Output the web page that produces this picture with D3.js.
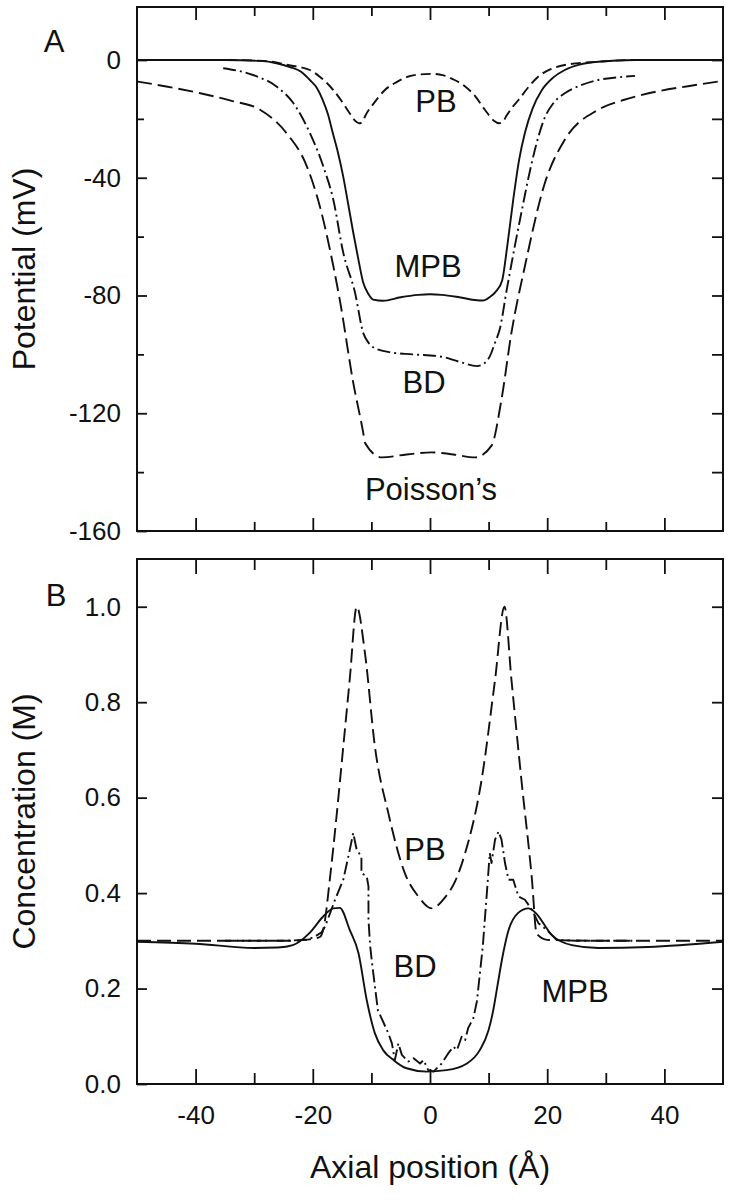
<!DOCTYPE html>
<html>
<head>
<meta charset="utf-8">
<script src="https://cdn.jsdelivr.net/npm/d3@7"></script>
<style>
  body { margin: 0; background: #fff; }
  text { font-family: "Liberation Sans", Arial, Helvetica, sans-serif; fill: #111; }
</style>
</head>
<body>
<div id="chart"></div>
<script>
// ---- panel A: potential (mV) vs axial position (Å)
const pbAX = [-50, -35, -28.4, -24, -20.5, -18.5, -16.5, -15, -13.7, -12.8, -12.1, -11.5, -11.1, -9.5, -7.7, -5.7, -3.7, -1.7, 0.3, 2.3, 4.2, 6, 7.8, 9.4, 10.9, 11.8, 12.4, 13.1, 14, 15.1, 16.8, 18.5, 20.5, 23, 28.7, 35, 50];
const pbAY = [0, 0, -0.3, -1.8, -3.4, -6.2, -10.2, -14.2, -18.1, -20.6, -21.5, -21, -19.2, -14.5, -10.2, -7.5, -5.6, -4.9, -4.7, -5.2, -6.8, -9, -12.5, -17, -20.6, -21.5, -21, -18.8, -16.2, -13.6, -9.2, -5.6, -3.2, -1.7, -0.6, 0, 0];

const mpbAX = [-50, -35, -29, -26, -23.9, -22, -20.5, -19.3, -18.3, -17.4, -16.6, -15.7, -14.8, -14, -13.1, -12.2, -11.4, -10.5, -9.7, -8, -5, -2, 0, 2, 5, 8, 9, 10.2, 11.3, 12.3, 13.2, 14.2, 15.2, 16.2, 17.5, 19.1, 21, 23, 25.5, 28.7, 35, 50];
const mpbAY = [0, 0, -0.3, -1.2, -2.4, -4, -6.8, -9.5, -13.6, -18.5, -24.7, -31.5, -39.7, -48.5, -58.6, -68, -75.6, -79.5, -81.4, -81.8, -80.6, -79.8, -79.6, -79.8, -80.6, -81.6, -81.7, -80.5, -78.5, -75, -63, -47.5, -34, -24.7, -16.5, -10.2, -6, -3.4, -1.6, -0.6, 0, 0];

const bdAX = [-35.3, -30.2, -26.2, -23.3, -20.5, -18.2, -16.5, -14.8, -12.8, -11.4, -10.5, -9.7, -6.8, -3, 1.7, 5, 8, 9.3, 10.2, 11.1, 11.9, 13.1, 14.4, 15.7, 16.8, 17.9, 19.6, 21, 23, 25.5, 28.7, 32, 35];
const bdAY = [-2.8, -5.1, -9, -14.7, -24.8, -36.2, -47.5, -65.5, -79, -92.7, -96, -97.6, -99.3, -100, -100.7, -102.5, -104, -103, -100.7, -96, -91.5, -78, -64, -50.8, -40, -30.5, -19.5, -14.8, -11.3, -8.8, -6.8, -5.9, -5.4];

const poisAX = [-50, -45, -39.2, -34, -29, -24.5, -21, -18.8, -16.5, -15.4, -13.1, -11.4, -11.1, -8.2, -4, 0.3, 4, 7.7, 10.5, 12.2, 13.9, 16.2, 19.6, 23, 28.7, 33, 37.3, 44, 50];
const poisAY = [-7.3, -9, -11.3, -13.8, -16.9, -24.8, -36.2, -49.7, -70, -81.4, -109.6, -126.6, -130, -135, -134, -133.3, -134, -135, -131, -115.3, -92.6, -70, -41.8, -27.1, -16.9, -13.6, -11.3, -8.9, -7.1];

// ---- panel B: concentration (M) vs axial position (Å)
const pbBX = [-50, -25, -20.5, -18.8, -18.1, -17.1, -15.9, -14.8, -13.7, -12.5, -11.1, -9.4, -7.1, -4.3, -2, 0.3, 2.5, 4.3, 6, 8.8, 11.1, 12.7, 13.9, 15.6, 17.4, 18.2, 20, 30, 50];
const pbBY = [0.3, 0.3, 0.303, 0.308, 0.33, 0.428, 0.567, 0.707, 0.847, 1.0, 0.903, 0.707, 0.567, 0.442, 0.393, 0.368, 0.39, 0.425, 0.484, 0.637, 0.847, 1.0, 0.847, 0.637, 0.428, 0.315, 0.302, 0.3, 0.3];

const mpbBX = [-50, -40, -30, -26, -23.4, -20.5, -18.3, -16.5, -15.4, -13.7, -12.2, -10.8, -9.4, -8, -6.2, -4, -0.6, 2.8, 6.3, 8.5, 10, 10.8, 11.5, 12.3, 13.3, 15, 16.8, 17.9, 20.8, 24.2, 28.7, 37.2, 50];
const mpbBY = [0.298, 0.294, 0.285, 0.286, 0.291, 0.317, 0.35, 0.368, 0.369, 0.323, 0.274, 0.176, 0.106, 0.071, 0.05, 0.033, 0.026, 0.029, 0.043, 0.071, 0.113, 0.155, 0.205, 0.262, 0.318, 0.358, 0.368, 0.36, 0.312, 0.291, 0.285, 0.287, 0.298];

const bdBX = [-35, -25, -21, -19.5, -18.5, -17.9, -16.2, -14.8, -13.7, -13.1, -12.5, -11.7, -11.7, -10.8, -10.5, -10.5, -10.2, -9.9, -8.9, -7.1, -6.5, -6, -5.4, -4.8, -3.7, -2.8, -1.7, -1.1, -0.3, 0.6, 2, 3.1, 4, 4.6, 5.4, 6, 6.5, 7.4, 8, 9, 9.7, 10.2, 10.5, 11.1, 11.7, 12.2, 12.8, 13.4, 14.2, 15.1, 16.2, 17.4, 18.5, 19.9, 21.6, 25, 35];
const bdBY = [0.3, 0.3, 0.302, 0.31, 0.318, 0.33, 0.386, 0.428, 0.49, 0.526, 0.49, 0.477, 0.442, 0.435, 0.414, 0.344, 0.288, 0.254, 0.155, 0.106, 0.085, 0.05, 0.085, 0.061, 0.047, 0.054, 0.043, 0.05, 0.029, 0.026, 0.043, 0.064, 0.078, 0.071, 0.099, 0.092, 0.117, 0.138, 0.173, 0.287, 0.4, 0.484, 0.463, 0.512, 0.529, 0.512, 0.463, 0.428, 0.428, 0.393, 0.386, 0.365, 0.337, 0.323, 0.302, 0.3, 0.3];

// ticks
const xTicks = [-40, -30, -20, -10, 0, 10, 20, 30, 40];
const xLabels = [-40, -20, 0, 20, 40];
const yATicks = [0, -20, -40, -60, -80, -100, -120, -140];
const yALabels = [0, -40, -80, -120, -160];
const yBLabels = [0.0, 0.2, 0.4, 0.6, 0.8, 1.0];

const W = 730, H = 1200;
const left = 137, right = 723;
const panelA = { top: 7, bottom: 531 };
const panelB = { top: 559, bottom: 1084 };

const svg = d3.select("#chart")
  .append("svg")
  .attr("width", W)
  .attr("height", H);

const x = d3.scaleLinear().domain([-50, 50]).range([left, right]);
const yA = d3.scaleLinear().domain([-160, 18]).range([panelA.bottom, panelA.top]);
const yB = d3.scaleLinear().domain([0, 1.1]).range([panelB.bottom, panelB.top]);

const zip = (xs, ys) => xs.map((v, i) => [v, ys[i]]);

function frame(p) {
  svg.append("rect")
    .attr("x", left).attr("y", p.top)
    .attr("width", right - left).attr("height", p.bottom - p.top)
    .attr("fill", "none").attr("stroke", "#111").attr("stroke-width", 2);
}

// inward ticks on one side; labels optional
function ticks(axisFn, scale, pos, vals, size, labels, pad, fmt) {
  const g = svg.append("g").attr("transform", pos);
  g.call(axisFn(scale).tickValues(vals).tickSizeInner(-size).tickSizeOuter(0)
      .tickPadding(pad || 0).tickFormat(labels ? fmt : ""));
  g.select(".domain").remove();
  g.selectAll("line").attr("stroke", "#111").attr("stroke-width", 1.8);
  g.selectAll("text").style("font-size", "26px").attr("fill", "#111")
    .style("font-family", "'Liberation Sans', Arial, sans-serif");
  return g;
}

const hy = d => String(d);
const xMinor = xTicks.filter(v => !xLabels.includes(v));

// panel A axes
frame(panelA);
ticks(d3.axisBottom, x, `translate(0,${panelA.bottom})`, xLabels, 13);
ticks(d3.axisBottom, x, `translate(0,${panelA.bottom})`, xMinor, 9);
ticks(d3.axisTop, x, `translate(0,${panelA.top})`, xLabels, 13);
ticks(d3.axisTop, x, `translate(0,${panelA.top})`, xMinor, 9);
ticks(d3.axisLeft, yA, `translate(${left},0)`, yALabels, 10, true, 16, hy);
ticks(d3.axisLeft, yA, `translate(${left},0)`, yATicks.filter(v => !yALabels.includes(v)), 7);
ticks(d3.axisRight, yA, `translate(${right},0)`, yALabels.filter(v => v > -160), 11);
ticks(d3.axisRight, yA, `translate(${right},0)`, yATicks.filter(v => !yALabels.includes(v)), 11);

// panel B axes
frame(panelB);
ticks(d3.axisBottom, x, `translate(0,${panelB.bottom})`, xLabels, 15, true, 22, hy);
ticks(d3.axisBottom, x, `translate(0,${panelB.bottom})`, xMinor, 11);
ticks(d3.axisTop, x, `translate(0,${panelB.top})`, xLabels, 15);
ticks(d3.axisTop, x, `translate(0,${panelB.top})`, xMinor, 11);
ticks(d3.axisLeft, yB, `translate(${left},0)`, yBLabels, 10, true, 16, d3.format(".1f"));
ticks(d3.axisRight, yB, `translate(${right},0)`, yBLabels.filter(v => v > 0), 11);

// curves
const smoothA = d3.line().x(d => x(d[0])).y(d => yA(d[1])).curve(d3.curveMonotoneX);
const smoothB = d3.line().x(d => x(d[0])).y(d => yB(d[1])).curve(d3.curveMonotoneX);
const roughB = d3.line().x(d => x(d[0])).y(d => yB(d[1]));

const curves = [
  { data: zip(pbAX, pbAY), line: smoothA, dash: "10,5" },
  { data: zip(poisAX, poisAY), line: smoothA, dash: "15,6" },
  { data: zip(bdAX, bdAY), line: smoothA, dash: "13,4,2,4" },
  { data: zip(mpbAX, mpbAY), line: smoothA, dash: null },
  { data: zip(pbBX, pbBY), line: smoothB, dash: "14,6" },
  { data: zip(bdBX, bdBY), line: roughB, dash: "13,4,2,4" },
  { data: zip(mpbBX, mpbBY), line: smoothB, dash: null }
];

svg.selectAll("path.curve")
  .data(curves)
  .enter()
  .append("path")
  .attr("class", "curve")
  .attr("d", d => d.line(d.data))
  .attr("fill", "none")
  .attr("stroke", "#111")
  .attr("stroke-width", 1.9)
  .attr("stroke-linejoin", "round")
  .attr("stroke-dasharray", d => d.dash);

// labels
const notes = [
  { t: "A", x: 54, y: 52, s: 31 },
  { t: "B", x: 56, y: 606, s: 31 },
  { t: "PB", x: 436, y: 112, s: 31 },
  { t: "MPB", x: 428, y: 277, s: 31 },
  { t: "BD", x: 424, y: 393, s: 31 },
  { t: "Poisson’s", x: 431, y: 500, s: 31 },
  { t: "PB", x: 425, y: 860, s: 31 },
  { t: "BD", x: 415, y: 977, s: 31 },
  { t: "MPB", x: 575, y: 1002, s: 31 }
];
svg.selectAll("text.note")
  .data(notes)
  .enter()
  .append("text")
  .attr("class", "note")
  .attr("x", d => d.x).attr("y", d => d.y)
  .attr("text-anchor", "middle")
  .style("font-size", d => d.s + "px")
  .text(d => d.t);

svg.append("text")
  .attr("transform", `translate(35,${(panelA.top + panelA.bottom) / 2}) rotate(-90)`)
  .attr("text-anchor", "middle")
  .style("font-size", "32px")
  .text("Potential (mV)");

svg.append("text")
  .attr("transform", `translate(35,${(panelB.top + panelB.bottom) / 2}) rotate(-90)`)
  .attr("text-anchor", "middle")
  .style("font-size", "32px")
  .text("Concentration (M)");

svg.append("text")
  .attr("x", (left + right) / 2).attr("y", 1178)
  .attr("text-anchor", "middle")
  .style("font-size", "32px")
  .text("Axial position (Å)");
</script>
</body>
</html>
